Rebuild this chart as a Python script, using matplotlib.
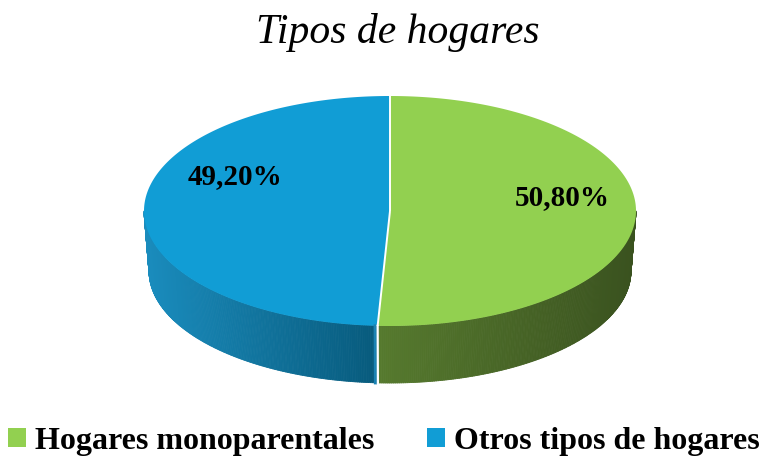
import numpy as np
import matplotlib

matplotlib.use("Agg")
import matplotlib.pyplot as plt
from matplotlib.patches import Polygon, Patch
from matplotlib.collections import PolyCollection
from matplotlib.colors import to_rgb

plt.rcParams["font.family"] = ["Liberation Serif", "DejaVu Serif"]

# ---------------------------------------------------------------- datos
categorias = ["Hogares monoparentales", "Otros tipos de hogares"]
valores = [50.80, 49.20]
etiquetas = ["50,80%", "49,20%"]
colores_top = ["#92d050", "#119dd5"]
# degradado de la pared lateral (claro -> oscuro, izquierda -> derecha)
colores_lado = [("#567a2e", "#3a521f"), ("#1a8cbd", "#075a7c")]

# ---------------------------------------------------------------- geometría (px)
CX, CY = 390, 211
RX, RY = 246, 115
RXB, RYB, CYB = 241, 112, 271    # elipse inferior (ligera perspectiva)


def top_pt(t):
    return CX + RX * np.cos(t), CY - RY * np.sin(t)


def bot_pt(t):
    return CX + RXB * np.cos(t), CYB - RYB * np.sin(t)


fig = plt.figure(figsize=(7.63, 4.57), dpi=100)
ax = fig.add_axes([0, 0, 1, 1])
ax.set_xlim(0, 763)
ax.set_ylim(457, 0)
ax.axis("off")

fr = np.array(valores) / np.sum(valores)
t_ini = np.radians(90 - 360 * np.concatenate([[0], np.cumsum(fr)[:-1]]))
t_fin = t_ini - np.radians(360 * fr)

# paredes laterales (solo la parte frontal, sin(t) < 0)
for i in range(len(valores)):
    a0 = min(t_ini[i], 0.0)
    a1 = max(t_fin[i], -np.pi)
    if a0 <= a1:
        continue
    ts = np.linspace(a0, a1, 200)
    c0, c1 = np.array(to_rgb(colores_lado[i][0])), np.array(to_rgb(colores_lado[i][1]))
    xs_all = [top_pt(t)[0] for t in ts]
    xmin, xmax = min(xs_all), max(xs_all)
    polys, cols = [], []
    for ta, tb in zip(ts[:-1], ts[1:]):
        p = [top_pt(ta), top_pt(tb), bot_pt(tb), bot_pt(ta)]
        polys.append(p)
        xm = 0.5 * (top_pt(ta)[0] + top_pt(tb)[0])
        s = (xm - xmin) / (xmax - xmin)
        cols.append(c0 + (c1 - c0) * s)
    ax.add_collection(PolyCollection(polys, facecolors=cols, edgecolors=cols,
                                     linewidths=0.6, zorder=2))

# caras superiores
for i in range(len(valores)):
    ts = np.linspace(t_ini[i], t_fin[i], 300)
    pts = [(CX, CY)] + [top_pt(t) for t in ts]
    ax.add_patch(Polygon(pts, closed=True, facecolor=colores_top[i],
                         edgecolor="none", zorder=3))

# bordes blancos entre porciones
for t in t_ini:
    x1, y1 = top_pt(t)
    ax.plot([CX, x1], [CY, y1], color="white", lw=1.4, zorder=4,
            solid_capstyle="butt")
    if np.sin(t) < 0:
        x2, y2 = bot_pt(t)
        ax.plot([x1 - 2.5, x2 - 2.5], [y1, y2], color="#1b82b2", lw=2.2,
                zorder=3)
        ax.plot([x1, x2], [y1, y2], color="white", lw=1.6, zorder=4)

# etiquetas de datos
pos_etq = [(562, 198), (235, 177)]
for (x, y), txt in zip(pos_etq, etiquetas):
    ax.text(x, y, txt, ha="center", va="center", fontsize=21,
            fontweight="bold", color="black", zorder=5)

# título
ax.text(398, 32, "Tipos de hogares", ha="center", va="center", fontsize=30,
        style="italic", color="black")

# leyenda
handles = [Patch(facecolor=c, edgecolor="none") for c in colores_top]
ax.legend(handles, categorias, loc="center left",
          bbox_to_anchor=(8 / 763, 0.035),
          ncol=2, frameon=False, prop={"weight": "bold", "size": 23},
          handlelength=0.55, handleheight=0.55, handletextpad=0.3,
          columnspacing=1.65, borderaxespad=0, borderpad=0)

fig.savefig("out.png", dpi=100)
